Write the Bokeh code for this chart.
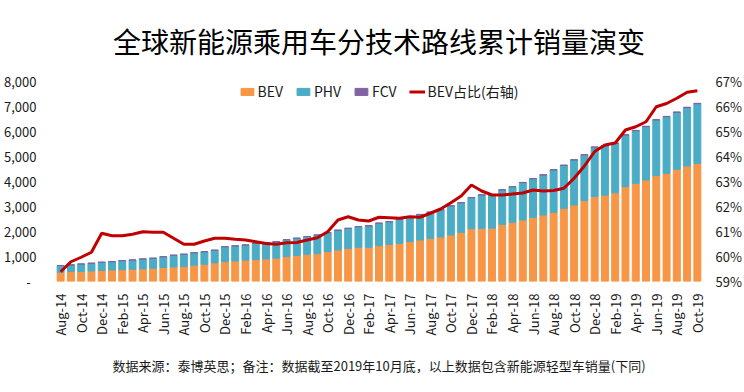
from bokeh.plotting import figure
from bokeh.models import (ColumnDataSource, Range1d, LinearAxis, FixedTicker,
                          NumeralTickFormatter, PrintfTickFormatter, Title)
from bokeh.embed import file_html
from bokeh.resources import INLINE

months = ["Aug-14", "Sep-14", "Oct-14", "Nov-14", "Dec-14",
          "Jan-15", "Feb-15", "Mar-15", "Apr-15", "May-15", "Jun-15",
          "Jul-15", "Aug-15", "Sep-15", "Oct-15", "Nov-15", "Dec-15",
          "Jan-16", "Feb-16", "Mar-16", "Apr-16", "May-16", "Jun-16",
          "Jul-16", "Aug-16", "Sep-16", "Oct-16", "Nov-16", "Dec-16",
          "Jan-17", "Feb-17", "Mar-17", "Apr-17", "May-17", "Jun-17",
          "Jul-17", "Aug-17", "Sep-17", "Oct-17", "Nov-17", "Dec-17",
          "Jan-18", "Feb-18", "Mar-18", "Apr-18", "May-18", "Jun-18",
          "Jul-18", "Aug-18", "Sep-18", "Oct-18", "Nov-18", "Dec-18",
          "Jan-19", "Feb-19", "Mar-19", "Apr-19", "May-19", "Jun-19",
          "Jul-19", "Aug-19", "Sep-19", "Oct-19"]

bev = [370, 395, 400, 420, 440, 460, 470, 490, 505, 530,
       560, 580, 600, 655, 690, 745, 795, 820, 855, 875,
       905, 935, 995, 1045, 1090, 1110, 1195, 1260, 1325, 1365,
       1370, 1435, 1485, 1525, 1595, 1660, 1725, 1780, 1860, 1965,
       2110, 2125, 2135, 2285, 2365, 2460, 2565, 2660, 2765, 2925,
       3060, 3235, 3400, 3450, 3550, 3795, 3925, 4060, 4235, 4325,
       4485, 4620, 4725]

phv = [270, 270, 300, 310, 330, 335, 365, 370, 395, 400,
       430, 470, 490, 495, 500, 505, 595, 605, 605, 645,
       650, 660, 675, 685, 710, 750, 755, 790, 800, 830,
       855, 895, 905, 960, 975, 1020, 1045, 1090, 1165, 1185,
       1245, 1335, 1335, 1375, 1425, 1495, 1545, 1600, 1695, 1720,
       1800, 1825, 1970, 1970, 1975, 2065, 2105, 2135, 2225, 2265,
       2280, 2335, 2385]

fcv = [0.1, 0.1, 0.1, 0.2, 0.2,
       0.3, 0.3, 0.4, 0.5, 0.6, 0.7, 0.8, 0.9, 1.0, 1.1, 1.2, 1.4,
       1.5, 1.6, 1.7, 1.8, 1.9, 2.0, 2.2, 2.4, 2.6, 2.8, 3.1, 3.4,
       3.6, 3.8, 4.1, 4.4, 4.7, 5.0, 5.3, 5.6, 5.9, 6.2, 6.6, 7.0,
       7.2, 7.4, 7.7, 8.0, 8.4, 8.8, 9.2, 9.6, 10.0, 10.5, 11.0, 11.6,
       11.9, 12.3, 12.8, 13.4, 13.9, 14.5, 15.1, 15.7, 16.3, 16.9]

bev_share = [59.39, 59.79, 59.97, 60.17, 60.93, 60.83, 60.83, 60.89, 60.99, 60.97,
             60.97, 60.73, 60.49, 60.49, 60.62, 60.73, 60.73, 60.69, 60.66, 60.59,
             60.52, 60.49, 60.55, 60.56, 60.66, 60.75, 60.99, 61.46, 61.59, 61.46,
             61.42, 61.57, 61.55, 61.53, 61.59, 61.57, 61.73, 61.90, 62.15, 62.42,
             62.86, 62.62, 62.46, 62.46, 62.50, 62.54, 62.66, 62.62, 62.64, 62.73,
             63.13, 63.62, 64.20, 64.46, 64.54, 65.06, 65.19, 65.39, 65.99, 66.12,
             66.33, 66.57, 66.63]

left_ticks = [0, 1000, 2000, 3000, 4000, 5000, 6000, 7000, 8000]
right_ticks = [59, 60, 61, 62, 63, 64, 65, 66, 67]

title_text = "全球新能源乘用车分技术路线累计销量演变"
note_text = "数据来源：泰博英思；备注：数据截至2019年10月底，以上数据包含新能源轻型车销量(下同)"

CJK = "Noto Sans CJK SC"
TXT = "#1a1a1a"

x = list(range(len(months)))
src = ColumnDataSource(dict(x=x, BEV=bev, PHV=phv, FCV=fcv, share=bev_share))

p = figure(width=744, height=392, output_backend="svg", toolbar_location=None,
           x_range=Range1d(-0.5, len(months) - 0.5), y_range=Range1d(0, 8000),
           min_border_left=55, min_border_right=41, min_border_top=81, min_border_bottom=111)
p.extra_y_ranges = {"pct": Range1d(59, 67)}

p.title.text = title_text
p.title.text_font = CJK
p.title.text_font_size = "28px"
p.title.text_font_style = "normal"
p.title.text_color = "#000000"
p.title.align = "center"
p.title.vertical_align = "top"
p.title.standoff = 38

p.vbar_stack(["BEV", "PHV", "FCV"], x="x", width=0.68, source=src,
             color=["#F79646", "#4BACC6", "#8064A2"],
             legend_label=["BEV", "PHV", "FCV"])
p.line("x", "share", source=src, y_range_name="pct", line_color="#C00000",
       line_width=3, legend_label="BEV占比(右轴)")

# left axis
ya = p.yaxis[0]
ya.ticker = FixedTicker(ticks=left_ticks)
ya.formatter = NumeralTickFormatter(format="0,0")
ya.major_label_overrides = {0: "-\u00a0\u00a0"}

# right axis
ra = LinearAxis(y_range_name="pct", ticker=FixedTicker(ticks=right_ticks),
                formatter=PrintfTickFormatter(format="%d%%"))
p.add_layout(ra, "right")

xa = p.xaxis[0]
xa.ticker = FixedTicker(ticks=x[::2])
xa.major_label_overrides = {i: months[i] for i in x[::2]}
xa.major_label_orientation = 1.5708

for ax in [xa, ya, ra]:
    ax.axis_line_color = None
    ax.major_tick_line_color = None
    ax.minor_tick_line_color = None
    ax.major_tick_out = 0
    ax.major_tick_in = 0
    ax.minor_tick_out = 0
    ax.minor_tick_in = 0
    ax.major_label_text_font = CJK
    ax.major_label_text_color = TXT
    ax.major_label_text_font_size = "13px"
ya.major_label_standoff = 19
ra.major_label_standoff = 13
xa.major_label_standoff = 12

p.xgrid.grid_line_color = None
p.ygrid.grid_line_color = None
p.outline_line_color = None

lg = p.legend[0]
lg.location = "top"
lg.orientation = "horizontal"
lg.border_line_color = None
lg.background_fill_alpha = 0
lg.label_text_font = CJK
lg.label_text_font_size = "14px"
lg.label_text_color = TXT
lg.glyph_width = 16
lg.glyph_height = 9
lg.label_height = 14
lg.label_standoff = 3
lg.spacing = 12
lg.padding = 0
lg.margin = 0

note = Title(text=note_text, align="center", text_font=CJK, text_font_size="13px",
             text_font_style="normal", text_color=TXT, vertical_align="bottom", standoff=30)
p.add_layout(note, "below")

open("out.html", "w").write(file_html(p, INLINE))
